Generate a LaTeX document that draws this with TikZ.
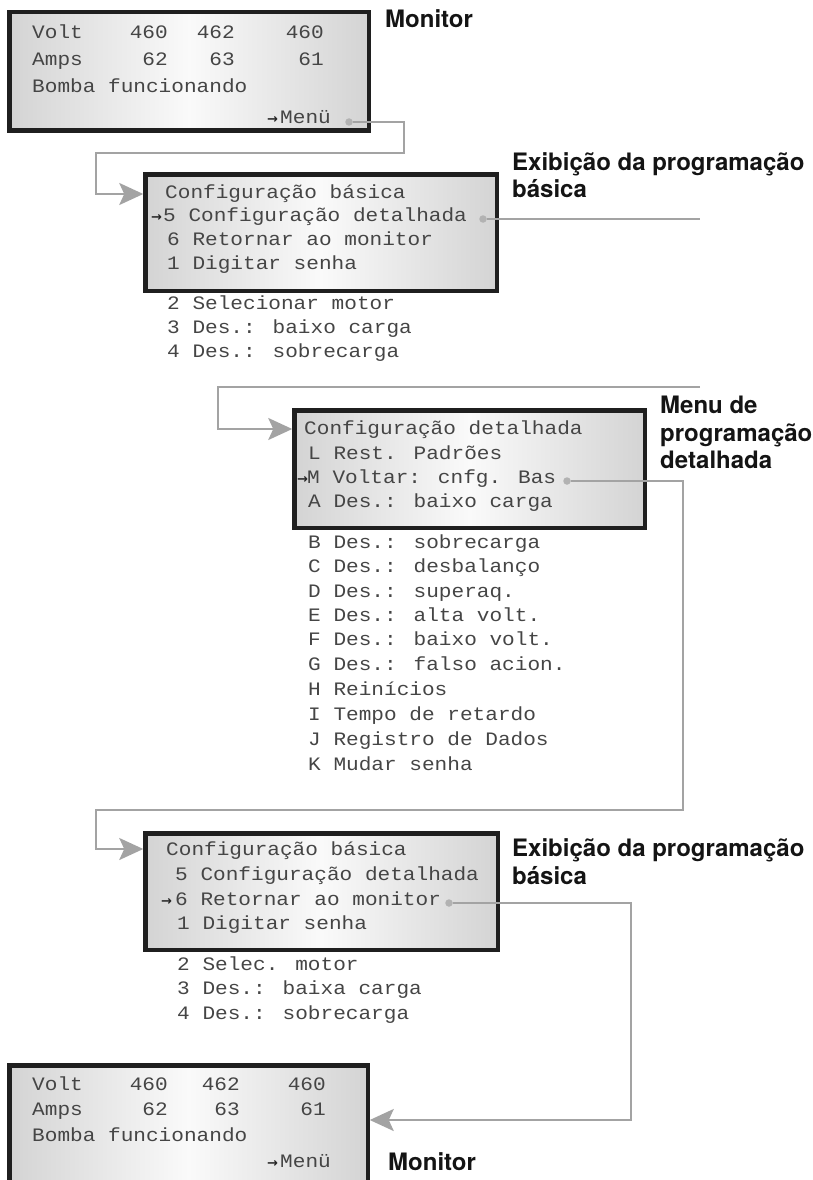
\documentclass[tikz,border=0pt]{standalone}
\usepackage{fontspec}
\usetikzlibrary{arrows.meta}
\newfontfamily\lcdfont[FakeStretch=1.11]{Liberation Mono}
\newfontfamily\selfont{DejaVu Sans}
\newfontfamily\labfont{TeX Gyre Heros}
\definecolor{lcdink}{gray}{0.27}
\definecolor{wirec}{gray}{0.64}
\definecolor{dotc}{gray}{0.70}
\definecolor{rim}{gray}{0.12}
\definecolor{lcdedge}{gray}{0.83}
\definecolor{lcdmid}{gray}{0.98}
\begin{document}
\begin{tikzpicture}[x=1pt,y=-1pt,
 lcdbox/.style={draw=rim, line width=4.5pt, inner sep=0pt, outer sep=0pt, rectangle,
   left color=lcdedge, right color=lcdedge, middle color=lcdmid},
 lcd/.style={font=\lcdfont\fontsize{19}{22}\selectfont, text=lcdink, inner sep=0pt, anchor=mid west},
 lcdr/.style={lcd, anchor=mid east},
 sel/.style={font=\selfont\bfseries\fontsize{13}{15}\selectfont, text=black!85, inner sep=0pt, anchor=mid west},
 lab/.style={font=\labfont\bfseries\fontsize{24}{28}\selectfont, text=black!92, inner sep=0pt, anchor=base west},
 wire/.style={draw=wirec, line width=2.2pt},
 flow/.style={wire, shorten >=2pt, -{Stealth[length=24pt,width=22pt,inset=5pt,fill=wirec]}},
 knob/.style={circle, fill=dotc, minimum size=7.5pt, inner sep=0pt, outer sep=0pt},
]
\path[use as bounding box] (0,0) rectangle (813,1180);

% ---------- boxes ----------
\node[lcdbox, minimum width=359.5pt, minimum height=118.5pt] (b1) at (189,71.5) {};
\node[lcdbox, minimum width=351.5pt, minimum height=116.5pt] (b2) at (321,232.5) {};
\node[lcdbox, minimum width=350.5pt, minimum height=117.5pt] (b3) at (469.5,469) {};
\node[lcdbox, minimum width=352.5pt, minimum height=116.5pt] (b4) at (321.5,891.5) {};
\begin{scope}
\clip (0,0) rectangle (813,1180);
\node[lcdbox, minimum width=358.5pt, minimum height=127.5pt] (b5) at (188.5,1129) {};
\end{scope}

% ---------- monitor (top) ----------
\node[lcd] (m1v) at (32,36) {Volt};
\node[lcdr] (m1v1) at (168,36) {460};
\node[lcdr] (m1v2) at (235,36) {462};
\node[lcdr] (m1v3) at (324,36) {460};
\node[lcd] (m1a) at (32,63) {Amps};
\node[lcdr] (m1a1) at (168,63) {62};
\node[lcdr] (m1a2) at (235,63) {63};
\node[lcdr] (m1a3) at (324,63) {61};
\node[lcd] (m1b) at (32,90) {Bomba funcionando};
\node[sel] (m1s) at (267,121) {→};
\node[lcd] (m1m) at (280,121) {Menü};
\node[knob] (k1) at (349,122) {};
\node[lab] (t1) at (385,28) {Monitor};

% ---------- basic config (1) ----------
\node[lcd] (c2t) at (165,196) {Configuração básica};
\node[sel] (c2s) at (151,219) {→};
\node[lcd] (c2r1) at (163,219) {5 Configuração detalhada};
\node[lcd] (c2r2) at (167,243) {6 Retornar ao monitor};
\node[lcd] (c2r3) at (167,267) {1 Digitar senha};
\node[lcd] (c2r4) at (167,307) {2 Selecionar motor};
\node[lcd] (c2r5) at (167,331) {3 Des.: baixo carga};
\node[lcd] (c2r6) at (167,355) {4 Des.: sobrecarga};
\node[knob] (k2) at (483,219) {};
\node[lab] (t2a) at (512,170) {Exibição da programação};
\node[lab] (t2b) at (512,197) {básica};

% ---------- detailed config ----------
\node[lcd] (c3t) at (304,432) {Configuração detalhada};
\node[lcd] (c3l) at (308,457) {L Rest. Padrões};
\node[sel] (c3s) at (297,481) {→};
\node[lcd] (c3m) at (307,481) {M Voltar: cnfg. Bas};
\node[lcd] (c3a) at (308,505) {A Des.: baixo carga};
\node[lcd] (c3b) at (308,546) {B Des.: sobrecarga};
\node[lcd] (c3c) at (308,570) {C Des.: desbalanço};
\node[lcd] (c3d) at (308,595) {D Des.: superaq.};
\node[lcd] (c3e) at (308,619) {E Des.: alta volt.};
\node[lcd] (c3f) at (308,643) {F Des.: baixo volt.};
\node[lcd] (c3g) at (308,668) {G Des.: falso acion.};
\node[lcd] (c3h) at (308,693) {H Reinícios};
\node[lcd] (c3i) at (308,718) {I Tempo de retardo};
\node[lcd] (c3j) at (308,743) {J Registro de Dados};
\node[lcd] (c3k) at (308,768) {K Mudar senha};
\node[knob] (k3) at (567,481) {};
\node[lab] (t3a) at (660,413) {Menu de};
\node[lab] (t3b) at (660,441) {programação};
\node[lab] (t3c) at (660,468) {detalhada};

% ---------- basic config (2) ----------
\node[lcd] (c4t) at (166,853) {Configuração básica};
\node[lcd] (c4r1) at (175,878) {5 Configuração detalhada};
\node[sel] (c4s) at (161,903) {→};
\node[lcd] (c4r2) at (175,903) {6 Retornar ao monitor};
\node[lcd] (c4r3) at (177,927) {1 Digitar senha};
\node[lcd] (c4r4) at (177,968) {2 Selec. motor};
\node[lcd] (c4r5) at (177,992) {3 Des.: baixa carga};
\node[lcd] (c4r6) at (177,1017) {4 Des.: sobrecarga};
\node[knob] (k4) at (449,903) {};
\node[lab] (t4a) at (512,856) {Exibição da programação};
\node[lab] (t4b) at (512,884) {básica};

% ---------- monitor (bottom) ----------
\node[lcd] (m5v) at (32,1088) {Volt};
\node[lcdr] (m5v1) at (168,1088) {460};
\node[lcdr] (m5v2) at (240,1088) {462};
\node[lcdr] (m5v3) at (326,1088) {460};
\node[lcd] (m5a) at (32,1113) {Amps};
\node[lcdr] (m5a1) at (168,1113) {62};
\node[lcdr] (m5a2) at (240,1113) {63};
\node[lcdr] (m5a3) at (326,1113) {61};
\node[lcd] (m5b) at (32,1139) {Bomba funcionando};
\node[sel] (m5s) at (267,1165) {→};
\node[lcd] (m5m) at (280,1165) {Menü};
\node[lab] (t5) at (388,1170) {Monitor};

% ---------- connectors ----------
\coordinate (a2) at (b2.west |- 0,194);
\draw[flow] (k1.east) -- (404,122) -- (404,153) -- (96,153) -- (96,194) -- (a2);

\coordinate (e2) at (700,219);
\draw[wire] (k2.east) -- (e2);

\coordinate (s3) at (700,387);
\coordinate (a3) at (b3.west |- 0,429);
\draw[flow] (s3) -- (218,387) -- (218,429) -- (a3);

\coordinate (a4) at (b4.west |- 0,849);
\draw[flow] (k3.east) -- (683,481) -- (683,810) -- (96,810) -- (96,849) -- (a4);

\coordinate (a5) at (b5.east |- 0,1120);
\draw[flow] (k4.east) -- (631,903) -- (631,1120) -- (a5);
\end{tikzpicture}
\end{document}
